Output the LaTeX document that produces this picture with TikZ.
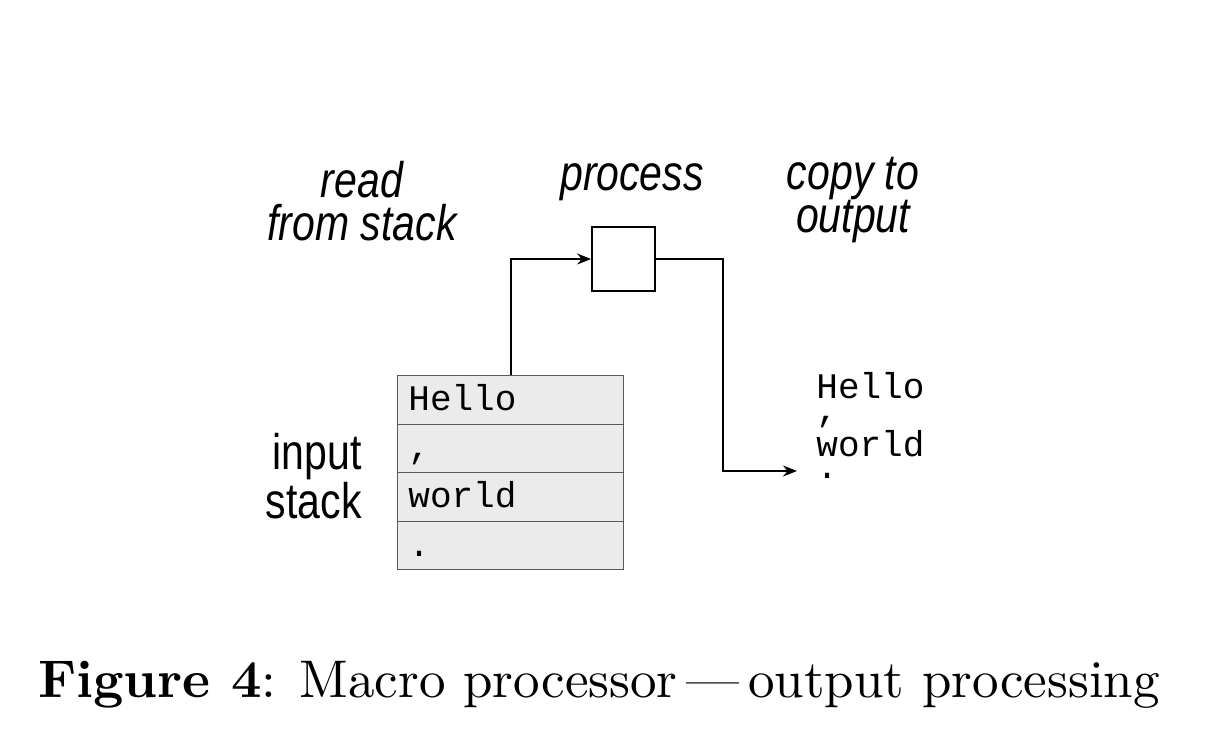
\documentclass[tikz,border=0pt]{standalone}
\usepackage{fontspec}
\usetikzlibrary{arrows.meta}
\newfontfamily\labfont{Liberation Sans}[FakeStretch=0.82]
\newfontfamily\codefont{Liberation Mono}
\newfontfamily\capfont{lmroman10}[Extension=.otf, UprightFont=*-regular, BoldFont=*-bold, Ligatures=TeX]
\begin{document}
\begin{tikzpicture}[x=0.5pt,y=-0.5pt,
  lab/.style={font=\labfont\fontsize{25}{21}\selectfont, align=center, inner sep=0pt, anchor=base},
  ilab/.style={lab, font=\labfont\itshape\fontsize{25}{21.5}\selectfont},
  code/.style={font=\codefont\fontsize{18}{22}\selectfont, inner sep=0pt, anchor=base west},
  cell/.style={draw=black!65, fill=black!8, line width=0.6pt, minimum width=113pt, minimum height=24.25pt, inner sep=0pt, anchor=north west},
  conn/.style={line width=0.9pt, -{Stealth[length=7pt,width=5.5pt]}}]
\useasboundingbox (0,0) rectangle (1226,750);
% stack
\node[cell] (r1) at (397,375) {};
\node[cell] (r2) at (397,423.5) {};
\node[cell] (r3) at (397,472) {};
\node[cell] (r4) at (397,520.5) {};
\node[code] (t1) at (408,410) {Hello};
\node[code] (t2) at (408,458) {,};
\node[code] (t3) at (408,507) {world};
\node[code] (t4) at (408,556) {.};
% process box
\node[draw, line width=0.9pt, minimum width=31.5pt, minimum height=32pt, inner sep=0pt] (proc) at (623.5,259) {};
% output
\node[code] (o1) at (816,398) {Hello};
\node[code] (o2) at (816,421) {,};
\node[code] (o3) at (816,456) {world};
\node[code] (o4) at (816,478) {.};
\coordinate (outin) at (797,471);
% connectors
\draw[conn] (r1.north) |- (proc.west);
\draw[conn] (proc.east) -- ++(67,0) |- (outin);
% labels
\node[ilab] (lread) at (362,240) {read\\from stack};
\node[ilab] (lproc) at (632,190) {process};
\node[ilab] (lcopy) at (853,232) {copy to\\output};
\node[lab, align=right, anchor=base east] (lin) at (362,518) {input\\stack};
% caption
\node[inner sep=0pt, anchor=base, font=\capfont\fontsize{26.5}{30}\selectfont] (cap) at (599,697) {\textbf{Figure 4}: Macro processor\,---\,output processing};
\end{tikzpicture}
\end{document}
